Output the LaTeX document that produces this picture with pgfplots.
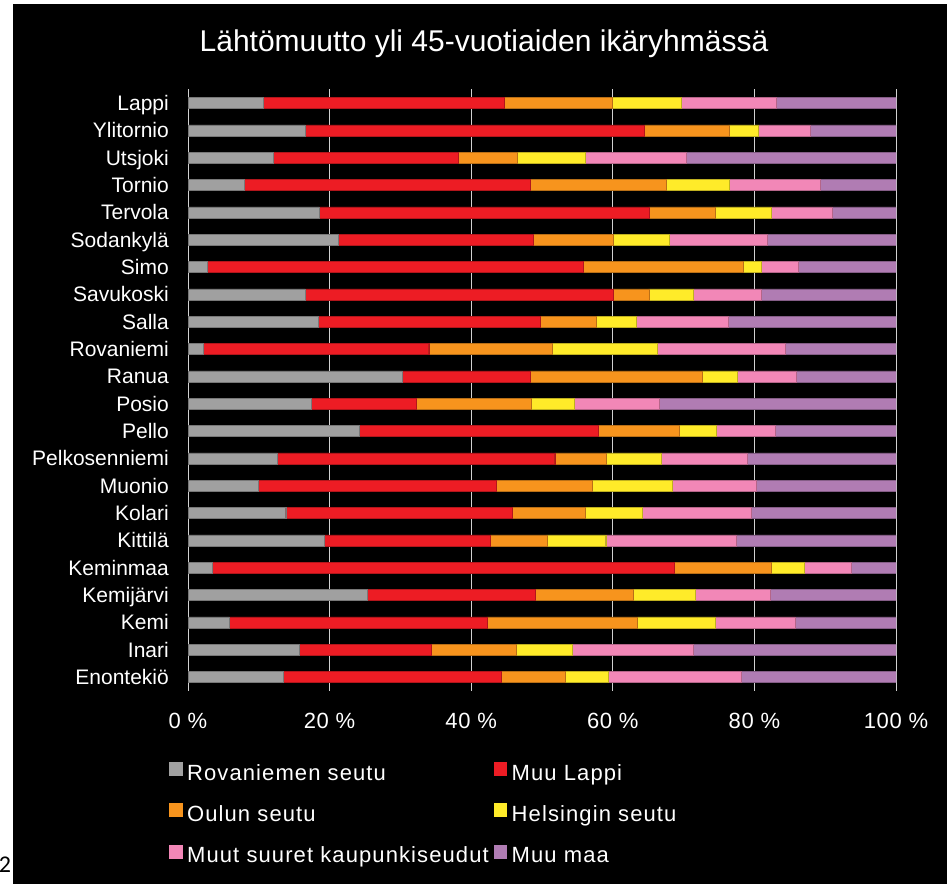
\documentclass[border=0pt]{standalone}
\usepackage{pgfplots}
\pgfplotsset{compat=1.18}
\usepackage{pgfplotstable}
\usepackage{fontspec}
\setmainfont{Liberation Sans}
\newfontfamily\legfont[LetterSpace=5]{Liberation Sans}
\newfontfamily\tickfont[LetterSpace=3]{Liberation Sans}
\newfontfamily\pagefont{Carlito}
\definecolor{cGray}{HTML}{A0A0A0}
\definecolor{cRed}{HTML}{ED1C24}
\definecolor{cOrange}{HTML}{F7941D}
\definecolor{cYellow}{HTML}{FFEB29}
\definecolor{cPink}{HTML}{F287B7}
\definecolor{cPurple}{HTML}{B07CB3}
\pgfplotsset{mybar/.style={fill=#1, draw=#1!75!black, line width=0.4pt,
  legend image code/.code={\fill[#1] (0pt,0pt) rectangle (12.5pt,13pt);}}}
\pgfplotstableread{
y a b c d e f
0 13.4 30.8 9.1 6.0 18.8 21.9
1 15.7 18.7 11.9 8.0 17.1 28.6
2 5.8 36.4 21.3 11.0 11.3 14.2
3 25.3 23.7 13.9 8.8 10.5 17.8
4 3.4 65.3 13.7 4.7 6.6 6.3
5 19.2 23.5 8.0 8.3 18.4 22.6
6 13.8 32.0 10.3 8.0 15.5 20.4
7 9.9 33.6 13.6 11.3 11.8 19.8
8 12.6 39.2 7.3 7.8 12.1 21.0
9 24.2 33.8 11.4 5.2 8.3 17.1
10 17.4 14.8 16.3 6.1 12.0 33.4
11 30.3 18.0 24.3 5.0 8.3 14.1
12 2.1 31.9 17.4 14.9 18.1 15.6
13 18.4 31.3 8.0 5.6 13.0 23.7
14 16.5 43.5 5.1 6.3 9.5 19.1
15 2.7 53.1 22.6 2.6 5.2 13.8
16 21.2 27.5 11.4 7.9 13.8 18.2
17 18.5 46.6 9.3 8.0 8.6 9.0
18 7.9 40.4 19.3 8.8 12.9 10.7
19 12.1 26.0 8.4 9.6 14.3 29.6
20 16.5 48.0 11.9 4.2 7.3 12.1
21 10.6 34.1 15.2 9.7 13.5 16.9
}\data
\begin{document}
\begin{tikzpicture}[x=1pt,y=1pt]
\path[use as bounding box] (0,0) rectangle (947,884);
\fill[white] (0,0) rectangle (947,884);
\fill[black] (13,0) rectangle (947,880);
\node[font=\pagefont\fontsize{24}{28}\selectfont, text=black, inner sep=0pt] at (5,19) {2};
\begin{axis}[
  at={(188pt,193.3pt)}, anchor=south west,
  scale only axis, width=708pt, height=601.4pt,
  xbar stacked, bar width=11pt,
  xmin=0, xmax=100, ymin=-0.5, ymax=21.5,
  xtick={0,20,...,100},
  xticklabels={0 \%,20 \%,40 \%,60 \%,80 \%,100 \%},
  ytick={0,...,21},
  yticklabels={Enontekiö, Inari, Kemi, Kemijärvi, Keminmaa, Kittilä, Kolari, Muonio, Pelkosenniemi, Pello, Posio, Ranua, Rovaniemi, Salla, Savukoski, Simo, Sodankylä, Tervola, Tornio, Utsjoki, Ylitornio, Lappi},
  major tick length=0pt,
  axis line style={draw=none},
  xmajorgrids, grid style={color=black!18!white, line width=1pt},
  xticklabel style={font=\tickfont\fontsize{22}{26}\selectfont, text=white, inner sep=0pt, anchor=north, text height=16pt, text depth=0pt, yshift=-21.3pt},
  yticklabel style={font=\fontsize{21}{25}\selectfont, text=white, inner sep=0pt, anchor=east, text height=15pt, text depth=0pt, xshift=-19pt},
  legend columns=2,
  legend cell align=left,
  legend style={at={(-0.0268,-0.1186)}, anchor=north west, draw=none, fill=none,
    inner sep=0pt, text=white, font=\legfont\fontsize{22}{26}\selectfont,
    row sep=18pt,
    /tikz/every odd column/.append style={column sep=5pt},
    /tikz/every even column/.append style={column sep=5pt},
    nodes={inner sep=0pt, text height=15pt, text depth=5pt}},
]
\addplot[mybar=cGray] table[x=a,y=y]{\data};
\addplot[mybar=cRed] table[x=b,y=y]{\data};
\addplot[mybar=cOrange] table[x=c,y=y]{\data};
\addplot[mybar=cYellow] table[x=d,y=y]{\data};
\addplot[mybar=cPink] table[x=e,y=y]{\data};
\addplot[mybar=cPurple] table[x=f,y=y]{\data};
\legend{Rovaniemen seutu, Muu Lappi, Oulun seutu, Helsingin seutu, Muut suuret kaupunkiseudut, Muu maa}
\end{axis}
\node[font=\fontsize{30}{36}\selectfont, text=white, anchor=base, inner sep=0pt] at (484,832) {Lähtömuutto yli 45-vuotiaiden ikäryhmässä};
\end{tikzpicture}
\end{document}
